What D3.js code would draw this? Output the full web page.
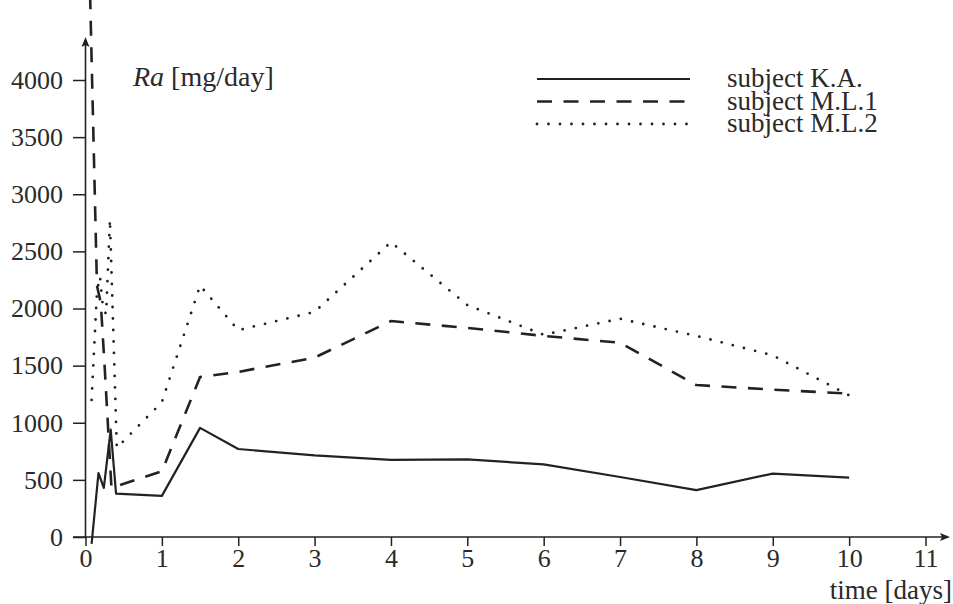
<!DOCTYPE html>
<html>
<head>
<meta charset="utf-8">
<script src="https://cdn.jsdelivr.net/npm/d3@7"></script>
<style>
  html, body { margin: 0; padding: 0; background: #fff; }
  svg { display: block; }
  text { font-family: "Liberation Serif", "DejaVu Serif", serif; fill: #2a2a2a; }
</style>
</head>
<body>
<svg id="chart" width="953" height="604"></svg>
<script>
// ---- data ----
const xTickValues = [0, 1, 2, 3, 4, 5, 6, 7, 8, 9, 10, 11];
const yTickValues = [0, 500, 1000, 1500, 2000, 2500, 3000, 3500, 4000];

const seriesNames = ["subject K.A.", "subject M.L.1", "subject M.L.2"];

const kaDays   = [0.08, 0.17, 0.24, 0.33, 0.40, 1, 1.5, 2, 3, 4, 5, 6, 7, 8, 9, 10];
const kaValues = [-60, 560, 430, 940, 380, 360, 955, 770, 715, 675, 680, 635, 525, 410, 555, 520];

const ml1Days   = [0.06, 0.15, 0.20, 0.25, 0.34, 1, 1.5, 2, 3, 4, 5, 6, 7, 8, 9, 10];
const ml1Values = [4750, 2200, 2050, 1500, 430, 575, 1400, 1445, 1570, 1890, 1830, 1760, 1700, 1330, 1290, 1255];

const ml2Days   = [0.08, 0.15, 0.19, 0.23, 0.27, 0.32, 0.41, 1, 1.5, 2, 3, 4, 5, 6, 7, 8, 9, 10];
const ml2Values = [1200, 2150, 2280, 2000, 1950, 2780, 780, 1180, 2200, 1810, 1970, 2580, 2030, 1770, 1910, 1760, 1590, 1240];

// ---- drawing ----
const svg = d3.select("#chart");
const ink = "#222";

const x = d3.scaleLinear().domain([0, 11]).range([85.5, 925.5]);
const y = d3.scaleLinear().domain([0, 4000]).range([537, 80]);

// y axis ticks + labels
const yAxis = d3.axisLeft(y).tickValues(yTickValues).tickSize(12.5).tickPadding(10).tickFormat(d3.format("d"));
const gy = svg.append("g").attr("transform", `translate(${x(0)},0)`).call(yAxis);
gy.select(".domain").remove();
gy.selectAll(".tick line").attr("stroke", ink).attr("stroke-width", 1.5);
gy.selectAll(".tick text").style("font-size", "26px").attr("fill", "#2a2a2a")
  .style("font-family", "'Liberation Serif', serif");

// x axis ticks + labels
const xAxis = d3.axisBottom(x).tickValues(xTickValues).tickSize(9).tickPadding(3).tickFormat(d3.format("d"));
const gx = svg.append("g").attr("transform", `translate(0,${y(0)})`).call(xAxis);
gx.select(".domain").remove();
gx.selectAll(".tick line").attr("stroke", ink).attr("stroke-width", 1.5);
gx.selectAll(".tick text").style("font-size", "26px").attr("fill", "#2a2a2a")
  .style("font-family", "'Liberation Serif', serif");

// axis lines with arrows
const y0 = y(0), x0 = x(0);
svg.append("line").attr("x1", 73).attr("x2", 944).attr("y1", y0).attr("y2", y0)
  .attr("stroke", ink).attr("stroke-width", 1.6);
svg.append("path").attr("d", `M950,${y0} L940,${y0 - 4} L942,${y0} L940,${y0 + 4} Z`).attr("fill", ink);
svg.append("line").attr("x1", x0).attr("x2", x0).attr("y1", y0).attr("y2", 44)
  .attr("stroke", ink).attr("stroke-width", 1.6);
svg.append("path").attr("d", `M${x0},37 L${x0 - 4},47 L${x0},45 L${x0 + 4},47 Z`).attr("fill", ink);

// axis titles
const t = svg.append("text").attr("x", 133).attr("y", 86).style("font-size", "28px");
t.append("tspan").style("font-style", "italic").text("Ra");
t.append("tspan").text(" [mg/day]");
svg.append("text").attr("x", 952).attr("y", 599).attr("text-anchor", "end")
  .style("font-size", "27px").text("time [days]");

// series
const line = d3.line().x(d => x(d[0])).y(d => y(d[1]));
const styles = [
  { dash: null, width: 2.2, cap: "butt" },
  { dash: "15,11.5", width: 2.6, cap: "butt" },
  { dash: "0,11.5", width: 2.8, cap: "round" }
];
const series = [
  d3.zip(kaDays, kaValues),
  d3.zip(ml1Days, ml1Values),
  d3.zip(ml2Days, ml2Values)
];
series.forEach((s, i) => {
  svg.append("path").datum(s).attr("d", line)
    .attr("fill", "none").attr("stroke", ink)
    .attr("stroke-width", styles[i].width)
    .attr("stroke-linecap", styles[i].cap)
    .attr("stroke-linejoin", "round")
    .attr("stroke-dasharray", styles[i].dash);
});

// legend
const legY = [79, 101.5, 124];
seriesNames.forEach((name, i) => {
  svg.append("line").attr("x1", 537).attr("x2", 690).attr("y1", legY[i]).attr("y2", legY[i])
    .attr("stroke", ink).attr("stroke-width", styles[i].width)
    .attr("stroke-linecap", styles[i].cap)
    .attr("stroke-dasharray", styles[i].dash);
  svg.append("text").attr("x", 727).attr("y", legY[i] + 8).style("font-size", "27px").text(name);
});
</script>
</body>
</html>
